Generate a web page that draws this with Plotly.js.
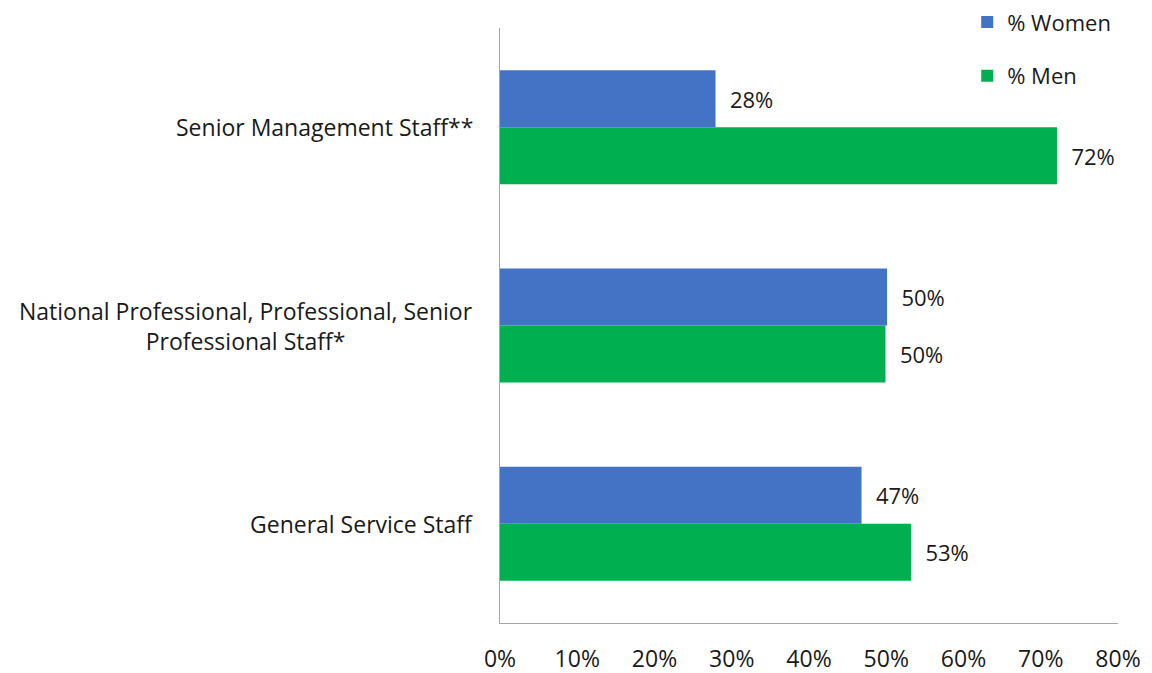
<!DOCTYPE html>
<html>
<head>
<meta charset="utf-8">
<script src="https://cdn.plot.ly/plotly-3.0.1.min.js"></script>
<style>html,body{margin:0;padding:0;background:#fff;}#chart{width:1152px;height:673px;}</style>
</head>
<body>
<div id="chart"></div>
<script>
// Data
var categories = ["Senior Management Staff**", "National Professional, Professional, Senior<br>Professional Staff*", "General Service Staff"];
var womenPct = [0.279, 0.501, 0.468];
var menPct = [0.721, 0.499, 0.532];
var xTickVals = [0, 0.1, 0.2, 0.3, 0.4, 0.5, 0.6, 0.7, 0.8];
var xTickText = ["0%", "10%", "20%", "30%", "40%", "50%", "60%", "70%", "80%"];

var FONT = "'Open Sans', sans-serif";
var FS = 23;
var pad = "\u00a0\u00a0";

var traces = [
  {
    type: "bar", orientation: "h", name: "% Women",
    y: categories, x: womenPct,
    marker: {color: "#4472C4"},
    text: womenPct.map(function(v){return pad + Math.round(v*100) + "%";}),
    textposition: "outside", cliponaxis: false,
    textfont: {family: FONT, size: FS - 1, color: "#1a1a1a"},
    legendgroup: "w", hoverinfo: "none"
  },
  {
    type: "bar", orientation: "h", name: "% Men",
    y: categories, x: menPct,
    marker: {color: "#00B050"},
    text: menPct.map(function(v){return pad + Math.round(v*100) + "%";}),
    textposition: "outside", cliponaxis: false,
    textfont: {family: FONT, size: FS - 1, color: "#1a1a1a"},
    legendgroup: "m", hoverinfo: "none"
  }
];

var annotations = categories.map(function(c){
  return {
    xref: "paper", yref: "y", x: -0.04, y: c, xanchor: "right", yanchor: "middle",
    text: c, showarrow: false, align: "center",
    font: {family: FONT, size: FS, color: "#1a1a1a"}
  };
});

var layout = {
  width: 1152, height: 673,
  margin: {l: 500, r: 34, t: 28, b: 50, autoexpand: false},
  paper_bgcolor: "#fff", plot_bgcolor: "#fff",
  barmode: "group", bargap: 0.425, bargroupgap: 0,
  font: {family: FONT, size: FS, color: "#1a1a1a"},
  xaxis: {
    range: [0, 0.8], tickvals: xTickVals, ticktext: xTickText,
    showgrid: false, zeroline: false,
    showline: true, linecolor: "#A6A6A6", linewidth: 1.3,
    ticks: "outside", ticklen: 15, tickcolor: "rgba(0,0,0,0)",
    tickfont: {family: FONT, size: FS, color: "#1a1a1a"}
  },
  yaxis: {
    autorange: "reversed", showticklabels: false,
    showgrid: false, zeroline: false,
    showline: true, linecolor: "#A6A6A6", linewidth: 1.3, ticks: ""
  },
  showlegend: true,
  legend: {
    x: 0.756, xanchor: "left", y: 1.045, yanchor: "top",
    orientation: "v", traceorder: "grouped", tracegroupgap: 22,
    font: {family: FONT, size: FS - 1, color: "#1a1a1a"},
    bgcolor: "rgba(0,0,0,0)", itemclick: false
  },
  annotations: annotations
};

Plotly.newPlot("chart", traces, layout, {displayModeBar: false, staticPlot: true});
</script>
</body>
</html>
